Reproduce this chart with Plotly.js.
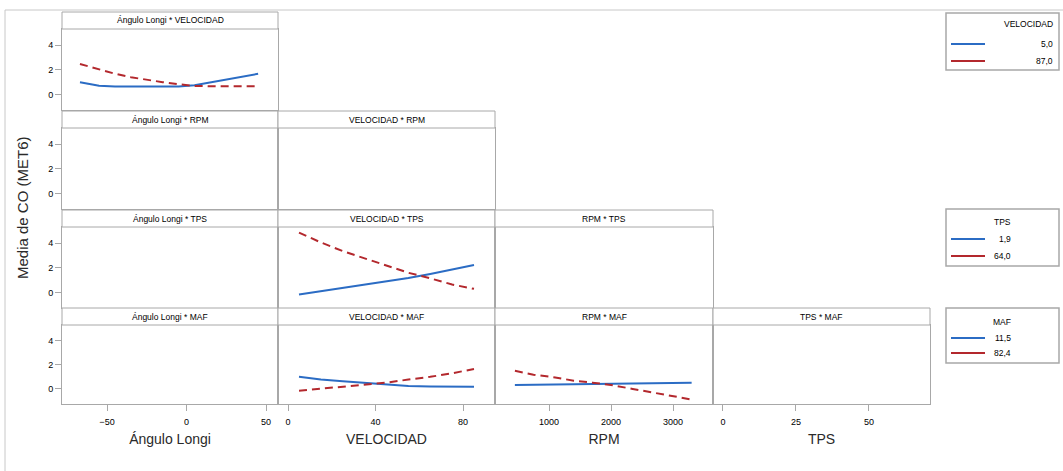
<!DOCTYPE html>
<html>
<head>
<meta charset="utf-8">
<script src="https://cdn.plot.ly/plotly-3.0.1.min.js"></script>
<style>html,body{margin:0;padding:0;background:#fff;}#chart{width:1063px;height:471px;}</style>
</head>
<body>
<div id="chart"></div>
<script>
// ---------- data ----------
const factors = ['Ángulo Longi', 'VELOCIDAD', 'RPM', 'TPS', 'MAF'];
const yAxisTitle = 'Media de CO (MET6)';

const velLevels = ['5,0', '87,0'];
const tpsLevels = ['1,9', '64,0'];
const mafLevels = ['11,5', '82,4'];

// Ángulo Longi * VELOCIDAD
const angX = [-67, -55, -45, -35, -25, -15, -5, 5, 15, 25, 35, 45];
const angVelLow  = [1.0, 0.72, 0.65, 0.64, 0.63, 0.63, 0.65, 0.75, 0.98, 1.22, 1.42, 1.68];
const angVelHigh = [2.47, 2.02, 1.68, 1.4, 1.18, 1.0, 0.83, 0.7, 0.67, 0.66, 0.66, 0.66];

// VELOCIDAD * TPS
const velX = [5, 15, 25, 35, 45, 55, 65, 75, 85];
const velTpsLow  = [-0.15, 0.12, 0.38, 0.62, 0.9, 1.18, 1.5, 1.85, 2.22];
const velTpsHigh = [4.85, 4.05, 3.35, 2.75, 2.15, 1.6, 1.15, 0.65, 0.3];

// VELOCIDAD * MAF
const velMafLow  = [1.0, 0.78, 0.63, 0.5, 0.38, 0.25, 0.2, 0.18, 0.17];
const velMafHigh = [-0.15, 0.02, 0.2, 0.36, 0.52, 0.78, 1.0, 1.3, 1.65];

// RPM * MAF
const rpmX = [450, 750, 1100, 1400, 1700, 2000, 2350, 2650, 2950, 3300];
const rpmMafLow  = [0.33, 0.35, 0.37, 0.39, 0.41, 0.43, 0.46, 0.48, 0.5, 0.52];
const rpmMafHigh = [1.5, 1.18, 0.95, 0.68, 0.52, 0.33, 0.0, -0.28, -0.5, -0.88];

const xTicks = [[-50, 0, 50], [0, 40, 80], [1000, 2000, 3000], [0, 25, 50]];
const yTicks = [0, 2, 4];

// ---------- geometry / style ----------
const W = 1063, H = 471;
const colLeft  = [62, 278, 495, 713];
const colRight = [278, 495, 713, 930];
const rowTop = [12, 111, 210, 308];
const stripH = 17;
const rowBottom = [110, 209, 308, 404];
const xRanges = [[-78.3, 57.5], [-4.6, 94.6], [129, 3645], [-3.4, 70.9]];
const yRange = [-1.25, 5.3];
const BLUE = '#2b6cc4', RED = '#b3282d', GRID = '#a8a8a8';
const FONT = 'Liberation Sans, Arial, sans-serif';
const px = v => v / W;
const py = v => 1 - v / H;

// panel id lookup: row r (0..3), col c (0..r)
const panelId = {};
let n = 0;
for (let r = 0; r < 4; r++) for (let c = 0; c <= r; c++) { n++; panelId[r + '_' + c] = n; }
const ax = (r, c) => { const i = panelId[r + '_' + c]; return {x: 'x' + (i > 1 ? i : ''), y: 'y' + (i > 1 ? i : '')}; };

const traces = [];
function addPair(r, c, xs, low, high, names) {
  const a = ax(r, c);
  traces.push({x: xs, y: low, xaxis: a.x, yaxis: a.y, type: 'scatter', mode: 'lines', name: names[0],
    line: {color: BLUE, width: 2}, showlegend: false, hoverinfo: 'x+y+name'});
  traces.push({x: xs, y: high, xaxis: a.x, yaxis: a.y, type: 'scatter', mode: 'lines', name: names[1],
    line: {color: RED, width: 2, dash: '8px,5px'}, showlegend: false, hoverinfo: 'x+y+name'});
}
addPair(0, 0, angX, angVelLow, angVelHigh, velLevels);
addPair(2, 1, velX, velTpsLow, velTpsHigh, tpsLevels);
addPair(3, 1, velX, velMafLow, velMafHigh, mafLevels);
addPair(3, 2, rpmX, rpmMafLow, rpmMafHigh, mafLevels);

const layout = {
  width: W, height: H,
  margin: {l: 0, r: 0, t: 0, b: 0},
  paper_bgcolor: '#fff', plot_bgcolor: '#fff',
  font: {family: FONT, color: '#000', size: 9},
  showlegend: false,
  shapes: [], annotations: []
};

// outer frame
layout.shapes.push({type: 'rect', xref: 'paper', yref: 'paper', x0: px(5), x1: px(1080), y0: py(10), y1: py(490),
  line: {color: '#c8c8c8', width: 1}, fillcolor: 'rgba(0,0,0,0)', layer: 'below'});

for (let r = 0; r < 4; r++) {
  for (let c = 0; c <= r; c++) {
    const i = panelId[r + '_' + c];
    const s = i > 1 ? i : '';
    const last = (r === 3);
    const xa = {
      domain: [px(colLeft[c]), px(colRight[c])], range: xRanges[c], anchor: 'y' + s,
      showline: true, mirror: true, linecolor: GRID, linewidth: 1, showgrid: false, zeroline: false,
      tickvals: last ? xTicks[c] : [], ticks: last ? 'outside' : '', ticklen: 6, tickcolor: GRID,
      ticklabelstandoff: 3,
      showticklabels: last, tickfont: {size: 9, color: '#000', family: FONT}, fixedrange: true
    };
    if (last) xa.title = {text: factors[c], font: {size: 14, color: '#2a2a2a', family: FONT}, standoff: 8};
    const ya = {
      domain: [py(rowBottom[r]), py(rowTop[r] + stripH)], range: yRange, anchor: 'x' + s,
      showline: true, mirror: true, linecolor: GRID, linewidth: 1, showgrid: false, zeroline: false,
      tickvals: c === 0 ? yTicks : [], ticks: c === 0 ? 'outside' : '', ticklen: 6, tickcolor: GRID,
      showticklabels: c === 0, tickfont: {size: 9, color: '#000', family: FONT}, fixedrange: true
    };
    layout['xaxis' + s] = xa;
    layout['yaxis' + s] = ya;
    // strip
    layout.shapes.push({type: 'rect', xref: 'paper', yref: 'paper',
      x0: px(colLeft[c]), x1: px(colRight[c]), y0: py(rowTop[r] + stripH), y1: py(rowTop[r]),
      line: {color: GRID, width: 1}, fillcolor: '#fff'});
    layout.annotations.push({xref: 'paper', yref: 'paper', x: px((colLeft[c] + colRight[c]) / 2),
      y: py(rowTop[r] + stripH / 2), text: factors[c] + ' * ' + factors[r + 1], showarrow: false,
      font: {size: 8.5, color: '#000', family: FONT}, xanchor: 'center', yanchor: 'middle'});
    // empty trace so every subplot is drawn
    traces.push({x: [], y: [], xaxis: 'x' + s, yaxis: 'y' + s, type: 'scatter', mode: 'lines', showlegend: false, hoverinfo: 'skip'});
  }
}

// y axis title
layout.annotations.push({xref: 'paper', yref: 'paper', x: px(22), y: py(208), text: yAxisTitle, textangle: -90,
  showarrow: false, font: {size: 15, color: '#2a2a2a', family: FONT}, xanchor: 'center', yanchor: 'middle'});

// legends (one per moderator factor with data)
const legends = [
  {title: factors[1], levels: velLevels, top: 13, bottom: 70, textRight: 1055, titleY: 24, l1: 44, l2: 61},
  {title: factors[3], levels: tpsLevels, top: 209, bottom: 266, textRight: 1013, titleY: 222, l1: 239, l2: 256},
  {title: factors[4], levels: mafLevels, top: 308, bottom: 363, textRight: 1013, titleY: 322, l1: 338, l2: 353}
];
legends.forEach(L => {
  layout.shapes.push({type: 'rect', xref: 'paper', yref: 'paper', x0: px(946), x1: px(1059), y0: py(L.bottom), y1: py(L.top),
    line: {color: GRID, width: 1.5}, fillcolor: '#fff'});
  layout.shapes.push({type: 'line', xref: 'paper', yref: 'paper', x0: px(951), x1: px(985), y0: py(L.l1), y1: py(L.l1),
    line: {color: BLUE, width: 2}});
  layout.shapes.push({type: 'line', xref: 'paper', yref: 'paper', x0: px(951), x1: px(985), y0: py(L.l2), y1: py(L.l2),
    line: {color: RED, width: 2}});
  layout.annotations.push({xref: 'paper', yref: 'paper', x: px(L.textRight), y: py(L.titleY), text: L.title,
    showarrow: false, xanchor: 'right', yanchor: 'middle', font: {size: 8.5, color: '#000', family: FONT}});
  layout.annotations.push({xref: 'paper', yref: 'paper', x: px(L.textRight), y: py(L.l1), text: L.levels[0],
    showarrow: false, xanchor: 'right', yanchor: 'middle', font: {size: 8.5, color: '#000', family: FONT}});
  layout.annotations.push({xref: 'paper', yref: 'paper', x: px(L.textRight), y: py(L.l2), text: L.levels[1],
    showarrow: false, xanchor: 'right', yanchor: 'middle', font: {size: 8.5, color: '#000', family: FONT}});
});

Plotly.newPlot('chart', traces, layout, {displayModeBar: false, staticPlot: true});
</script>
</body>
</html>
